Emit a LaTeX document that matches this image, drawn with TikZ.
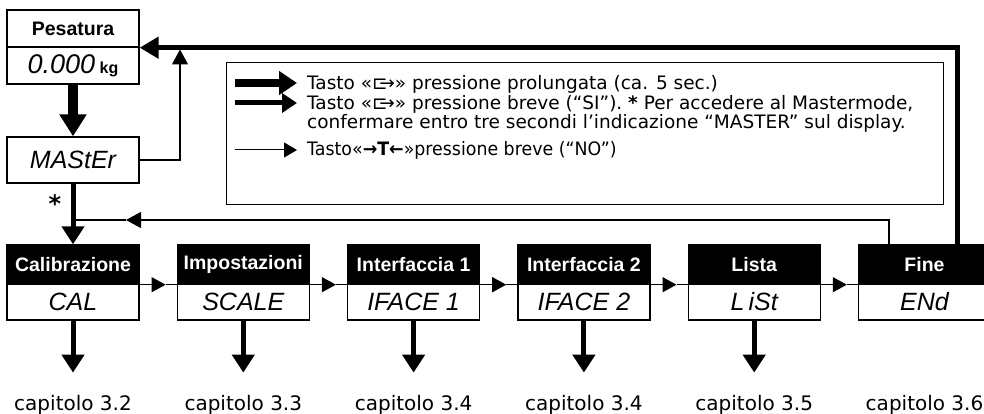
\documentclass[tikz,border=0pt]{standalone}
\usepackage{fontspec}
\usepackage{graphicx}
\setmainfont{DejaVu Sans}
\newfontfamily\hdrfont{Liberation Sans}
\newfontfamily\segfont{Liberation Sans}
\usetikzlibrary{arrows.meta,calc}
\newcommand{\fsz}[1]{\fontsize{#1}{#1}\selectfont}
\newcommand{\enterkey}{⊏\kern-.45em→}
\begin{document}
\begin{tikzpicture}[x=1pt,y=-1pt,
  boxline/.style={draw=black, line width=1.4pt},
  hdr/.style={boxline, minimum width=132pt, minimum height=39pt, inner sep=0pt, font=\hdrfont\bfseries\fsz{19.5}},
  blackhdr/.style={hdr, fill=black, text=white},
  whitehdr/.style={hdr, minimum height=37pt, text=black},
  body/.style={boxline, minimum width=132pt, minimum height=36pt, inner sep=0pt, font=\segfont\itshape\fsz{25}},
  captext/.style={font=\fsz{20}, inner sep=0pt, anchor=base},
  legtext/.style={font=\fsz{18.5}, inner sep=0pt, anchor=base west},
  arrThin/.style={line width=1.2pt, -{Triangle[length=15pt,width=16pt]}},
  arrMid/.style={line width=1.2pt, -{Triangle[length=14pt,width=15pt]}},
  arrMed/.style={line width=5pt, -{Triangle[length=18pt,width=22pt]}},
  arrBig/.style={line width=10pt, -{Triangle[length=22pt,width=26pt]}},
  arrLeg/.style={line width=8pt, -{Triangle[length=18pt,width=23pt]}},
  plain/.style={line width=1.2pt}
]
\useasboundingbox (0,0) rectangle (984,414);

% Pesatura and MASTER
\node[whitehdr] (p1) at (73,28.5) {Pesatura};
\node[body, minimum height=37pt] (p2) at (73,65.5) {\segfont\itshape\fsz{27}0.000\,{\hdrfont\upshape\bfseries\fsz{16}kg}};
\node[body, minimum height=46pt] (ms) at (73,160) {MAStEr};
\draw[arrBig] (p2.south) -- (ms.north);

% legend
\node[boxline, line width=1.2pt, minimum width=717pt, minimum height=142pt, inner sep=0pt, anchor=north west] (leg) at (226,62) {};
\coordinate (la) at (235,83);  \coordinate (lb) at (297,83);
\coordinate (ma) at (235,103); \coordinate (mb) at (297,103);
\coordinate (na) at (235,150); \coordinate (nb) at (297,150);
\draw[arrLeg] (la) -- (lb);
\draw[arrMed, -{Triangle[length=15pt,width=19pt]}] (ma) -- (mb);
\draw[line width=1pt, -{Triangle[length=13pt,width=15pt]}] (na) -- (nb);
\node[legtext] (t1) at (307,89.5) {Tasto «\enterkey» pressione prolungata (ca. 5 sec.)};
\node[legtext] (t2) at (307,109.5) {Tasto «\enterkey» pressione breve (“SI”). \textbf{*} Per accedere al Mastermode,};
\node[legtext] (t3) at (307,129) {confermare entro tre secondi l’indicazione “MASTER” sul display.};
\node[legtext] (t4) at (307,156) {\scalebox{0.94}[1]{Tasto«\textbf{→T←}»pressione breve (“NO”)}};

% lower row
\foreach \i/\h/\b in {1/Calibrazione/CAL, 2/Impostazioni/SCALE, 3/Interfaccia 1/IFACE 1, 4/Interfaccia 2/IFACE 2, 5/Lista/L\,iSt, 6/Fine/ENd}{
  \node[blackhdr] (h\i) at ({73+170.3*(\i-1)},264.5) {\h};
  \node[body] (b\i) at ({73+170.3*(\i-1)},302) {\b};
}
\foreach \i/\c in {1/3.2, 2/3.3, 3/3.4, 4/3.4, 5/3.5, 6/3.6}{
  \node[captext] (c\i) at ({73+170.3*(\i-1)},410) {capitolo \c};
}
\foreach \i in {1,...,5}{
  \draw[arrMed, shorten >=22pt] (b\i.south) -- (c\i.north);
}
\foreach \i/\j in {1/2, 2/3, 3/4, 4/5, 5/6}{
  \coordinate (m\i) at ($(h\j.south west)+(-11,0)$);
  \draw[arrMid] (h\i.south east) -- (m\i);
  \draw[plain] (m\i) -- (h\j.south west);
}

% MASTER connections
\coordinate (up) at (180,49.5);
\draw[arrThin] (ms.east) -| (up);
\node[inner sep=0pt, font=\bfseries\fsz{24}] (ast) at (55,204) {*};
\draw[arrMed] (ms.south) -- (h1.north);

% return line from Fine
\coordinate (rt) at (126,220);
\coordinate (jn) at (73,220);
\draw[arrThin] ($(h6.north)+(-35.5,0)$) |- (rt);
\draw[plain] (rt) -- (jn);

% thick line back to Pesatura
\draw[line width=5pt, -{Triangle[length=19pt,width=21pt]}] ($(h6.north)+(32.5,0)$) |- (p1.south east);
\end{tikzpicture}
\end{document}
